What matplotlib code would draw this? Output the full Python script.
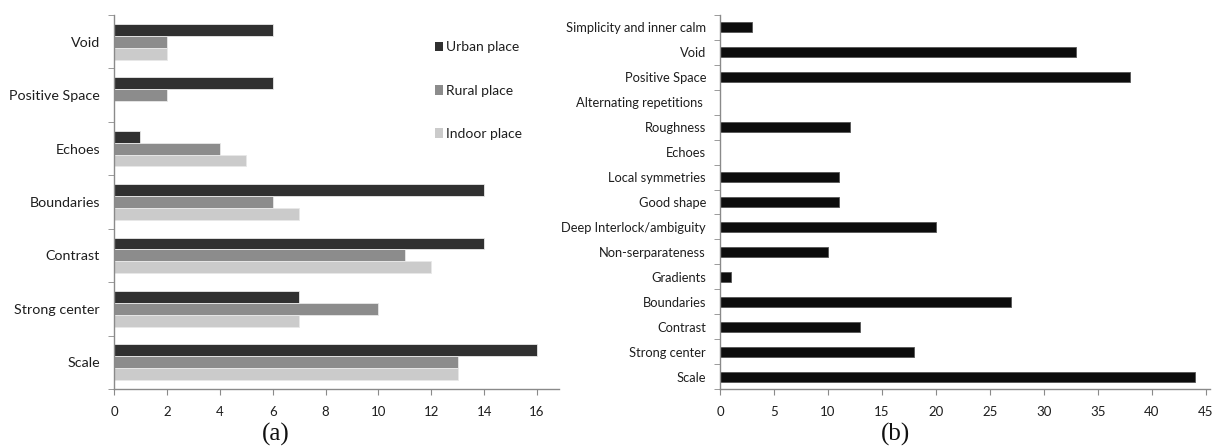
import matplotlib
matplotlib.use("Agg")
import matplotlib.pyplot as plt
from matplotlib.patches import Patch
from numpy import arange

# (a) counts per place type
cats_a = ["Scale", "Strong center", "Contrast", "Boundaries", "Echoes",
          "Positive Space", "Void"]
urban = [16, 7, 14, 14, 1, 6, 6]
rural = [13, 10, 11, 6, 4, 2, 2]
indoor = [13, 7, 12, 7, 5, 0, 2]
series_names = ["Urban place", "Rural place", "Indoor place"]
series_colors = ["#303030", "#8c8c8c", "#cbcbcb"]
xticks_a = arange(0, 17, 2)

# (b) totals
cats_b = ["Scale", "Strong center", "Contrast", "Boundaries", "Gradients",
          "Non-serparateness", "Deep Interlock/ambiguity", "Good shape",
          "Local symmetries", "Echoes", "Roughness", "Alternating repetitions ",
          "Positive Space", "Void", "Simplicity and inner calm"]
totals = [44, 18, 13, 27, 1, 10, 20, 11, 11, 0, 12, 0, 38, 33, 3]
xticks_b = arange(0, 46, 5)

axis_grey = "#8a8a8a"
text_col = "#1e1e1e"
label_font = ["Lato", "DejaVu Sans"]

fig = plt.figure(figsize=(12.12, 4.46), dpi=100)
W, H = 1212, 446


def style_axes(ax, n, xt):
    for side in ["top", "right"]:
        ax.spines[side].set_visible(False)
    for side in ["left", "bottom"]:
        ax.spines[side].set_color(axis_grey)
        ax.spines[side].set_linewidth(1.0)
    ax.set_ylim(-0.5, n - 0.5)
    ax.set_yticks(arange(n))
    ax.set_yticks(arange(n + 1) - 0.5, minor=True)
    ax.tick_params(axis="y", which="major", length=0, pad=10)
    ax.tick_params(axis="y", which="minor", length=4, color=axis_grey,
                   direction="out")
    ax.set_xticks(xt)
    ax.tick_params(axis="x", length=4, color=axis_grey, direction="out",
                   pad=8, labelsize=9.5, labelcolor=text_col)
    for lab in ax.get_xticklabels():
        lab.set_family(label_font)


# left panel
ax1 = fig.add_axes([114 / W, 1 - 389 / H, 445 / W, 374 / H])
h = 0.222
y = arange(len(cats_a))
for k, (vals, name, col) in enumerate(zip([urban, rural, indoor],
                                          series_names, series_colors)):
    ax1.barh(y + (1 - k) * h, vals, height=h, color=col, label=name,
             edgecolor="#e8e8e8", linewidth=0.6)
ax1.set_xlim(0, 16.83)
style_axes(ax1, len(cats_a), xticks_a)
ax1.set_yticklabels(cats_a, fontsize=10.3, color=text_col, family=label_font)

handles = [Patch(facecolor=c, edgecolor="none") for c in series_colors]
ax1.legend(handles, series_names, loc="upper left",
           bbox_to_anchor=(0.705, 0.948), frameon=False, borderpad=0,
           handlelength=0.6, handleheight=0.7, handletextpad=0.25,
           labelspacing=2.25, prop={"family": label_font, "size": 10},
           labelcolor=text_col)

# right panel
ax2 = fig.add_axes([720 / W, 1 - 389 / H, 490 / W, 374 / H])
yb = arange(len(cats_b))
ax2.barh(yb, totals, height=0.4, color="#0c0c0c", edgecolor="#555555",
         linewidth=0.6)
ax2.set_xlim(0, 45.4)
style_axes(ax2, len(cats_b), xticks_b)
ax2.set_yticklabels(cats_b, fontsize=9.3, color=text_col, family=label_font)

# captions
fig.text(276 / W, 1 - 434 / H, "(a)", ha="center", va="center",
         fontsize=18, family="Liberation Serif", color="#111111")
fig.text(896 / W, 1 - 434 / H, "(b)", ha="center", va="center",
         fontsize=18, family="Liberation Serif", color="#111111")

fig.savefig("out.png", dpi=100)
